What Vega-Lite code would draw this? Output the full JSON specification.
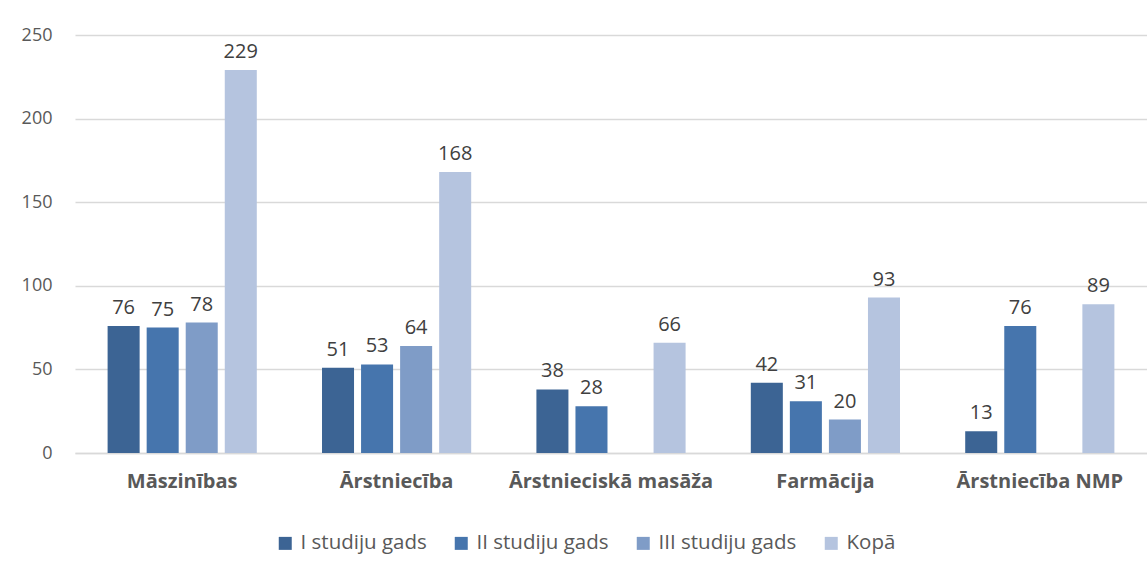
{
  "$schema": "https://vega.github.io/schema/vega-lite/v6.json",
  "width": 1072,
  "height": 418,
  "autosize": {"type": "none"},
  "padding": {"left": 75, "top": 35, "right": 0, "bottom": 119},
  "background": "white",
  "config": {
    "font": "Open Sans",
    "view": {"stroke": null},
    "axis": {"labelFont": "Open Sans", "titleFont": "Open Sans"},
    "legend": {"labelFont": "Open Sans"}
  },
  "data": {
    "values": [
      {"kategorija": "Māszinības", "serija": "I studiju gads", "vertiba": 76},
      {"kategorija": "Māszinības", "serija": "II studiju gads", "vertiba": 75},
      {"kategorija": "Māszinības", "serija": "III studiju gads", "vertiba": 78},
      {"kategorija": "Māszinības", "serija": "Kopā", "vertiba": 229},
      {"kategorija": "Ārstniecība", "serija": "I studiju gads", "vertiba": 51},
      {"kategorija": "Ārstniecība", "serija": "II studiju gads", "vertiba": 53},
      {"kategorija": "Ārstniecība", "serija": "III studiju gads", "vertiba": 64},
      {"kategorija": "Ārstniecība", "serija": "Kopā", "vertiba": 168},
      {"kategorija": "Ārstnieciskā masāža", "serija": "I studiju gads", "vertiba": 38},
      {"kategorija": "Ārstnieciskā masāža", "serija": "II studiju gads", "vertiba": 28},
      {"kategorija": "Ārstnieciskā masāža", "serija": "Kopā", "vertiba": 66},
      {"kategorija": "Farmācija", "serija": "I studiju gads", "vertiba": 42},
      {"kategorija": "Farmācija", "serija": "II studiju gads", "vertiba": 31},
      {"kategorija": "Farmācija", "serija": "III studiju gads", "vertiba": 20},
      {"kategorija": "Farmācija", "serija": "Kopā", "vertiba": 93},
      {"kategorija": "Ārstniecība NMP", "serija": "I studiju gads", "vertiba": 13},
      {"kategorija": "Ārstniecība NMP", "serija": "II studiju gads", "vertiba": 76},
      {"kategorija": "Ārstniecība NMP", "serija": "Kopā", "vertiba": 89}
    ]
  },
  "encoding": {
    "x": {
      "field": "kategorija",
      "type": "nominal",
      "sort": ["Māszinības", "Ārstniecība", "Ārstnieciskā masāža", "Farmācija", "Ārstniecība NMP"],
      "scale": {"paddingInner": 0, "paddingOuter": 0},
      "axis": {
        "title": null,
        "labelAngle": 0,
        "labelFontSize": 20,
        "labelFontWeight": "bold",
        "labelColor": "#595959",
        "labelPadding": 18,
        "labelLimit": 0,
        "ticks": false,
        "domainColor": "#d9d9d9",
        "domainWidth": 1.5
      }
    },
    "xOffset": {
      "field": "serija",
      "type": "nominal",
      "scale": {
        "domain": ["I studiju gads", "II studiju gads", "III studiju gads", "Kopā"],
        "paddingInner": 0.18,
        "paddingOuter": 0.835
      }
    },
    "y": {
      "field": "vertiba",
      "type": "quantitative",
      "scale": {"domain": [0, 250], "nice": false},
      "axis": {
        "title": null,
        "values": [0, 50, 100, 150, 200, 250],
        "labelFontSize": 18,
        "labelColor": "#595959",
        "labelPadding": 23,
        "ticks": false,
        "domain": false,
        "gridColor": "#d9d9d9",
        "gridWidth": 1.5
      }
    }
  },
  "layer": [
    {
      "mark": {"type": "bar"},
      "encoding": {
        "color": {
          "field": "serija",
          "type": "nominal",
          "scale": {
            "domain": ["I studiju gads", "II studiju gads", "III studiju gads", "Kopā"],
            "range": ["#3c6494", "#4675ad", "#7f9cc7", "#b5c4df"]
          },
          "legend": {
            "title": null,
            "orient": "none",
            "direction": "horizontal",
            "legendX": 200,
            "legendY": 498,
            "symbolType": "square",
            "symbolSize": 169,
            "symbolStrokeWidth": 0,
            "labelFontSize": 20.5,
            "labelColor": "#595959",
            "labelOffset": 5,
            "columnPadding": 24
          }
        }
      }
    },
    {
      "mark": {"type": "text", "baseline": "bottom", "dy": -8, "fontSize": 20, "color": "#404040"},
      "encoding": {
        "text": {"field": "vertiba", "type": "quantitative"}
      }
    }
  ]
}
